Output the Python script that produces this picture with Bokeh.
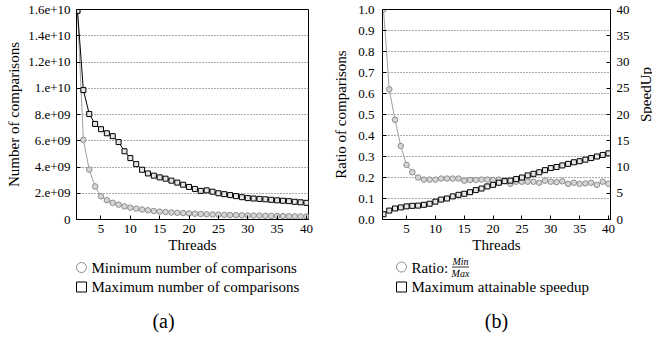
import math
from bokeh.plotting import figure
from bokeh.layouts import row, column
from bokeh.models import Range1d, LinearAxis, FixedTicker
from bokeh.core.properties import value
from bokeh.embed import file_html
from bokeh.resources import INLINE

# ---------------- data ----------------
threads = list(range(1, 41))

max_comparisons = [1.59e10, 9.86e9, 8.04e9, 7.28e9, 6.88e9, 6.57e9, 6.35e9, 5.90e9, 5.20e9, 4.68e9,
                   4.22e9, 3.79e9, 3.51e9, 3.34e9, 3.21e9, 3.11e9, 2.96e9, 2.81e9, 2.65e9, 2.48e9,
                   2.33e9, 2.18e9, 2.22e9, 2.12e9, 2.00e9, 1.93e9, 1.86e9, 1.78e9, 1.70e9, 1.63e9,
                   1.60e9, 1.57e9, 1.54e9, 1.50e9, 1.46e9, 1.43e9, 1.40e9, 1.35e9, 1.31e9, 1.27e9]

min_comparisons = [1.59e10, 6.07e9, 3.80e9, 2.52e9, 1.77e9, 1.47e9, 1.27e9, 1.13e9, 1.00e9, 0.90e9,
                   0.83e9, 0.76e9, 0.70e9, 0.65e9, 0.60e9, 0.57e9, 0.54e9, 0.51e9, 0.49e9, 0.46e9,
                   0.44e9, 0.42e9, 0.40e9, 0.38e9, 0.37e9, 0.35e9, 0.34e9, 0.33e9, 0.32e9, 0.31e9,
                   0.30e9, 0.29e9, 0.28e9, 0.27e9, 0.27e9, 0.26e9, 0.25e9, 0.24e9, 0.24e9, 0.23e9]

ratio = [1.0, 0.62, 0.475, 0.35, 0.26, 0.225, 0.20, 0.19, 0.19, 0.19,
         0.195, 0.195, 0.195, 0.195, 0.185, 0.188, 0.188, 0.19, 0.19, 0.188,
         0.19, 0.185, 0.17, 0.18, 0.18, 0.18, 0.18, 0.175, 0.185, 0.18,
         0.178, 0.182, 0.17, 0.175, 0.17, 0.172, 0.175, 0.165, 0.18, 0.17]

speedup = [1.0, 1.7, 2.1, 2.3, 2.5, 2.6, 2.65, 2.8, 3.0, 3.4,
           3.8, 4.0, 4.4, 4.7, 4.9, 5.2, 5.6, 5.9, 6.3, 6.6,
           7.0, 7.3, 7.4, 7.7, 8.0, 8.4, 8.7, 9.0, 9.4, 9.8,
           10.0, 10.3, 10.6, 10.9, 11.1, 11.4, 11.7, 12.0, 12.3, 12.6]

x_ticks = [5, 10, 15, 20, 25, 30, 35, 40]
a_y_ticks = [0, 2e9, 4e9, 6e9, 8e9, 1e10, 1.2e10, 1.4e10, 1.6e10]
a_y_labels = ["0", "2.e+09", "4.e+09", "6.e+09", "8.e+09", "1.e+10", "1.2e+10", "1.4e+10", "1.6e+10"]
b_y_ticks = [0.0, 0.1, 0.2, 0.3, 0.4, 0.5, 0.6, 0.7, 0.8, 0.9, 1.0]
b_y_labels = ["0.0", "0.1", "0.2", "0.3", "0.4", "0.5", "0.6", "0.7", "0.8", "0.9", "1.0"]
b_y2_ticks = [0, 5, 10, 15, 20, 25, 30, 35, 40]

legend_a = ["Minimum number of comparisons", "Maximum number of comparisons"]
legend_b = ["Ratio: ", "Maximum attainable speedup"]

# ---------------- style ----------------
FONT = "Liberation Serif"
GRAY_LINE = "#a0a0a0"
GRAY_EDGE = "#8c8c8c"
GRAY_FILL = "#d6d6d6"
X_RANGE = (0.83, 40.35)


def style_axis(ax, label_size="15px", tick_font="13px", standoff=5, label_standoff=2):
    ax.axis_line_color = "black"
    ax.axis_line_width = 1
    ax.major_tick_in = 4
    ax.major_tick_out = 0
    ax.major_tick_line_color = "black"
    ax.minor_tick_line_color = None
    ax.major_label_text_font = FONT
    ax.major_label_text_font_size = tick_font
    ax.major_label_text_color = "black"
    ax.major_label_standoff = standoff
    ax.axis_label_text_font = FONT
    ax.axis_label_text_font_size = label_size
    ax.axis_label_text_font_style = "normal"
    ax.axis_label_text_color = "black"
    ax.axis_label_standoff = label_standoff


def base_fig(width, left, right, y_range):
    p = figure(width=width, height=257, x_range=Range1d(*X_RANGE), y_range=y_range,
               output_backend="svg", toolbar_location=None,
               min_border_left=left, min_border_right=right, min_border_top=9, min_border_bottom=38)
    p.outline_line_color = "black"
    p.outline_line_width = 1
    p.background_fill_color = "white"
    p.border_fill_color = "white"
    p.xgrid.visible = False
    p.ygrid.grid_line_color = "#555555"
    p.ygrid.grid_line_dash = "1 2"
    p.ygrid.grid_line_width = 1
    p.xaxis.ticker = FixedTicker(ticks=x_ticks)
    p.xaxis.axis_label = "Threads"
    style_axis(p.xaxis[0], standoff=5, label_standoff=1)
    return p


def blank_fig(x0, y0, width, height):
    """Axis-free figure whose data coordinates are page pixels (y downward)."""
    p = figure(width=width, height=height, x_range=Range1d(x0, x0 + width),
               y_range=Range1d(y0 + height, y0), output_backend="svg", toolbar_location=None,
               x_axis_type=None, y_axis_type=None, min_border=0)
    p.outline_line_color = None
    p.background_fill_color = "white"
    p.border_fill_color = "white"
    p.grid.visible = False
    return p


# ---------------- panel (a) ----------------
pa = base_fig(320, 76, 12, Range1d(0, 1.6e10))
pa.yaxis.ticker = FixedTicker(ticks=a_y_ticks)
pa.yaxis.major_label_overrides = {t: l for t, l in zip(a_y_ticks, a_y_labels)}
pa.yaxis.axis_label = "Number of comparisons"
style_axis(pa.yaxis[0], standoff=6, label_standoff=3)

pa.line(threads, min_comparisons, line_color=GRAY_LINE, line_width=1)
pa.scatter(threads, min_comparisons, marker="circle", size=5.5, line_color=GRAY_EDGE,
           fill_color=GRAY_FILL, line_width=1)
pa.line(threads, max_comparisons, line_color="black", line_width=1)
pa.scatter(threads, max_comparisons, marker="square", size=5, line_color="black",
           fill_color="#e6e6e6", line_width=1)

# ---------------- panel (b) ----------------
pb = base_fig(312, 62, 19, Range1d(0, 1.0))
pb.extra_y_ranges = {"speed": Range1d(0, 40)}
pb.yaxis.ticker = FixedTicker(ticks=b_y_ticks)
pb.yaxis.major_label_overrides = {t: l for t, l in zip(b_y_ticks, b_y_labels)}
pb.yaxis.axis_label = "Ratio of comparisons"
style_axis(pb.yaxis[0], standoff=8, label_standoff=6)

ax2 = LinearAxis(y_range_name="speed", ticker=FixedTicker(ticks=b_y2_ticks))
style_axis(ax2, standoff=6, label_standoff=2)
pb.add_layout(ax2, "right")

pb.line(threads, ratio, line_color=GRAY_LINE, line_width=1)
pb.scatter(threads, ratio, marker="circle", size=5.5, line_color=GRAY_EDGE,
           fill_color=GRAY_FILL, line_width=1)
pb.line(threads, speedup, line_color="black", line_width=1, y_range_name="speed")
pb.scatter(threads, speedup, marker="square", size=5, line_color="black",
           fill_color="#e6e6e6", line_width=1, y_range_name="speed")

# right-hand axis title strip (reads bottom-to-top like the reference)
pc = blank_fig(632, 0, 20, 257)
pc.text([645], [104], text=["SpeedUp"], angle=math.pi / 2, text_font=value(FONT),
        text_font_size="15px", text_baseline="middle", text_align="center", text_color="black")

# ---------------- legends / captions ----------------
la = blank_fig(0, 257, 320, 84)
la.scatter([81], [267], marker="circle", size=10, line_color=GRAY_EDGE, fill_color="white", line_width=1)
la.scatter([81], [286.5], marker="square", size=10, line_color="black", fill_color="white", line_width=1)
la.text([91, 91], [267, 286.5], text=legend_a, text_font=value(FONT), text_font_size="15px",
        text_baseline="middle", text_align="left", text_color="black")
la.text([163], [320], text=["(a)"], text_font=value(FONT), text_font_size="20px",
        text_baseline="middle", text_align="center", text_color="black")

lb = blank_fig(320, 257, 332, 84)
lb.scatter([401], [266.5], marker="circle", size=10, line_color=GRAY_EDGE, fill_color="white", line_width=1)
lb.scatter([401], [286.5], marker="square", size=10, line_color="black", fill_color="white", line_width=1)
lb.text([411, 411], [267, 286.5], text=legend_b, text_font=value(FONT), text_font_size="15px",
        text_baseline="middle", text_align="left", text_color="black")
lb.text([460], [261], text=["Min"], text_font=value(FONT), text_font_size="10px",
        text_font_style="italic", text_baseline="middle", text_align="center", text_color="black")
lb.text([460], [272.5], text=["Max"], text_font=value(FONT), text_font_size="10px",
        text_font_style="italic", text_baseline="middle", text_align="center", text_color="black")
lb.segment([451.5], [266.5], [468.5], [266.5], line_color="black", line_width=0.8)
lb.text([496], [320], text=["(b)"], text_font=value(FONT), text_font_size="20px",
        text_baseline="middle", text_align="center", text_color="black")

layout = column(row(pa, pb, pc, spacing=0), row(la, lb, spacing=0), spacing=0)

open("out.html", "w").write(file_html(layout, INLINE))
